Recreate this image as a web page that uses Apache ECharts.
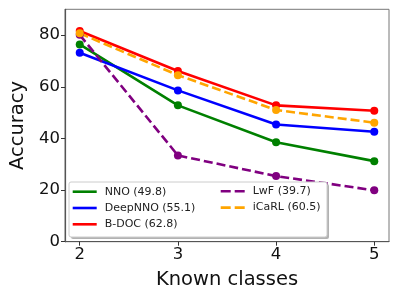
<!DOCTYPE html>
<html>
<head>
<meta charset="utf-8">
<script src="https://cdn.jsdelivr.net/npm/echarts@6/dist/echarts.min.js"></script>
<style>html,body{margin:0;padding:0;background:#fff}#c{width:399px;height:299px}</style>
</head>
<body>
<div id="c"></div>
<script>
const categories = [2, 3, 4, 5];
const xTicks = [2, 3, 4, 5];
const yTicks = [0, 20, 40, 60, 80];
const nno = [76.4, 52.8, 38.5, 31.2];
const deepnno = [73.2, 58.6, 45.4, 42.6];
const bdoc = [81.6, 66.1, 52.8, 50.7];
const lwf = [80.1, 33.4, 25.4, 19.9];
const icarl = [80.7, 64.5, 51.0, 46.1];
const names = ['NNO (49.8)', 'DeepNNO (55.1)', 'B-DOC (62.8)', 'LwF (39.7)', 'iCaRL (60.5)'];

const font = 'DejaVu Sans';
const solidIcon = 'path://M0,0h24v2.6h-24z';
const dashIcon = 'path://M0,0h10v2.6h-10z M14,0h10v2.6h-10z';

function mk(name, vals, color, dashed) {
  return {
    name: name, type: 'line', data: categories.map((c, i) => [c, vals[i]]),
    symbol: 'circle', symbolSize: 8, z: 2,
    lineStyle: { color: color, width: 2.6, type: dashed ? [9, 4] : 'solid', cap: 'butt' },
    itemStyle: { color: color },
    emphasis: { disabled: true }, animation: false
  };
}

const chart = echarts.init(document.getElementById('c'), null, { renderer: 'canvas' });
const legendCommon = {
  orient: 'vertical', itemWidth: 24, itemHeight: 14, itemGap: 2.3, padding: 0,
  textStyle: { fontFamily: font, fontSize: 11, color: '#222', lineHeight: 14, padding: [0, 0, 0, 3] },
  selectedMode: false, z: 5
};
chart.setOption({
  animation: false,
  grid: { left: 63, right: 10, top: 9.3, bottom: 57.3, show: true, borderColor: '#777', borderWidth: 1 },
  xAxis: {
    type: 'value', min: 1.85, max: 5.15,
    name: 'Known classes', nameLocation: 'middle', nameGap: 28,
    nameTextStyle: { fontFamily: font, fontSize: 19.5, color: '#111' },
    axisLine: { show: true, lineStyle: { color: '#555', width: 1.2 } },
    axisTick: { show: true, length: 4, lineStyle: { color: '#333' }, customValues: xTicks },
    axisLabel: { fontFamily: font, fontSize: 16.5, color: '#111', margin: 5, customValues: xTicks },
    splitLine: { show: false }
  },
  yAxis: {
    type: 'value', min: 0, max: 90,
    name: 'Accuracy', nameLocation: 'middle', nameGap: 37, nameRotate: 90,
    nameTextStyle: { fontFamily: font, fontSize: 19.5, color: '#111' },
    axisLine: { show: true, lineStyle: { color: '#555', width: 1.2 } },
    axisTick: { show: true, length: 4, lineStyle: { color: '#333' }, customValues: yTicks },
    axisLabel: { fontFamily: font, fontSize: 16.5, color: '#111', margin: 5, customValues: yTicks },
    splitLine: { show: false }
  },
  legend: [
    Object.assign({ left: 72.7, top: 184.7, data: names.slice(0, 3).map(n => ({ name: n, icon: solidIcon })) }, legendCommon),
    Object.assign({ left: 220.7, top: 184.3, data: names.slice(3).map(n => ({ name: n, icon: dashIcon })) }, legendCommon)
  ],
  graphic: [
    { type: 'rect', z: 3, shape: { x: 71, y: 184, width: 258, height: 55, r: 2 },
      style: { fill: 'rgba(0,0,0,0.3)' } },
    { type: 'rect', z: 3, shape: { x: 69, y: 182, width: 258, height: 55, r: 2 },
      style: { fill: '#fff', stroke: '#ccc', lineWidth: 1 } }
  ],
  series: [
    mk(names[0], nno, '#008000', false),
    mk(names[1], deepnno, '#0000ff', false),
    mk(names[2], bdoc, '#ff0000', false),
    mk(names[3], lwf, '#800080', true),
    mk(names[4], icarl, '#ffa500', true)
  ]
});
</script>
</body>
</html>
